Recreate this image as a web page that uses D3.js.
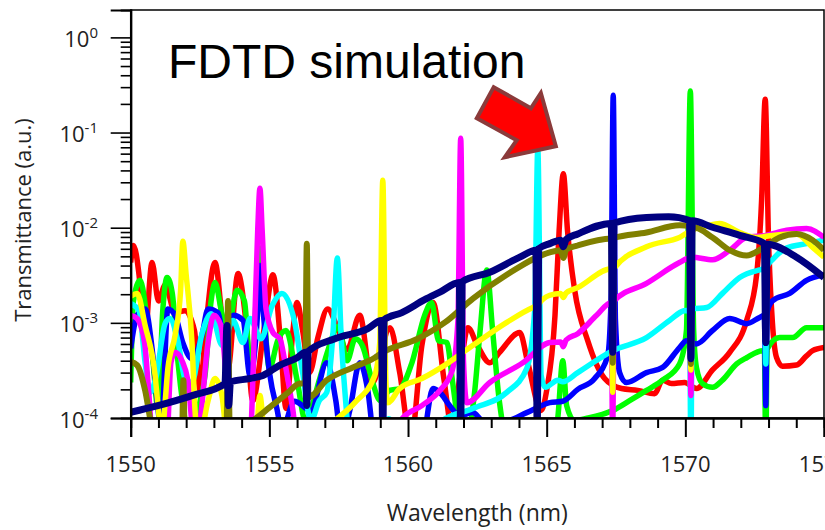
<!DOCTYPE html>
<html><head><meta charset="utf-8">
<script src="https://cdn.jsdelivr.net/npm/d3@7"></script>
<style>
html,body{margin:0;padding:0;background:#fff;}
svg{display:block;}
</style></head>
<body><svg id="chart" width="825" height="530"></svg>
<script>
// ---------- data (wavelength nm, transmittance a.u.) ----------
const xMajorTicks = [1550, 1555, 1560, 1565, 1570, 1575];
const xMinorTicks = [1551,1552,1553,1554,1556,1557,1558,1559,1561,1562,1563,1564,1566,1567,1568,1569,1571,1572,1573,1574];
const yMajorTicks = [1e-4, 1e-3, 1e-2, 1e-1, 1];
const yTickExponents = ["-4", "-3", "-2", "-1", "0"];

const red = [[1550.0,4.3e-3],[1550.1,6.5e-3],[1550.3,3.2e-3],[1550.5,6.5e-4],[1550.77,4.3e-3],[1551.0,1.7e-3],[1551.24,2.5e-3],[1551.6,1.28e-3],[1551.96,1.34e-3],[1552.3,8.3e-4],[1552.5,1.95e-4],[1552.7,8.3e-4],[1553.04,4.3e-3],[1553.3,1.06e-3],[1553.5,3.2e-4],[1553.87,3.3e-3],[1554.15,1.06e-3],[1554.4,1.52e-4],[1554.8,8.3e-4],[1555.13,3.2e-3],[1555.4,6.5e-4],[1555.6,1.26e-4],[1555.85,8.3e-4],[1556.0,1.64e-3],[1556.2,8.3e-4],[1556.45,3e-4],[1556.75,7e-4],[1557.1,1.4e-3],[1557.45,9e-4],[1557.8,5.2e-4],[1558.26,1.2e-3],[1558.7,2.3e-4],[1559.35,8.9e-4],[1559.7,3e-4],[1560.1,5.8e-5],[1560.5,5.8e-4],[1560.9,1.64e-3],[1561.3,2.5e-4],[1561.6,7.4e-5],[1561.85,2.5e-4],[1562.16,8.9e-4],[1562.5,5.8e-4],[1562.95,3.8e-4],[1563.3,4.9e-4],[1564.03,7.9e-4],[1564.32,3.8e-4],[1564.8,1.2e-4],[1565.0,1.95e-4],[1565.3,1.2e-3],[1565.45,9.4e-3],[1565.6,3.7e-2],[1565.75,9.4e-3],[1566.01,2.2e-3],[1566.48,6.5e-4],[1567.09,2.6e-4],[1567.7,2.04e-4],[1568.28,1.95e-4],[1568.89,1.8e-4],[1569.18,2.5e-4],[1569.5,2.3e-4],[1569.97,2.36e-4],[1570.4,2.04e-4],[1570.98,3.2e-4],[1571.6,4.9e-4],[1572.21,1.06e-3],[1572.57,3.2e-3],[1572.75,1.95e-2],[1572.88,0.224],[1573.0,7.4e-3],[1573.14,1.0e-3],[1573.29,4.3e-4],[1573.5,3.5e-4],[1574.01,3.6e-4],[1574.37,4.5e-4],[1574.59,5.1e-4],[1575.0,5.5e-4]];

const green = [[1550.0,2.36e-4],[1550.1,1.7e-3],[1550.34,2.8e-3],[1550.6,1.06e-3],[1550.8,4e-4],[1550.98,1.26e-4],[1551.16,1.4e-3],[1551.31,3e-3],[1551.5,2.04e-3],[1551.7,4e-4],[1551.9,1.26e-4],[1552.1,5.8e-5],[1552.5,1.5e-4],[1552.68,2.8e-4],[1552.9,1.7e-3],[1553.04,2.65e-3],[1553.3,1.2e-3],[1553.5,8.3e-4],[1553.83,2.2e-3],[1554.1,1.7e-3],[1554.35,2.5e-4],[1554.58,3.6e-3],[1554.66,6.1e-3],[1554.75,2.8e-3],[1555.0,3.3e-4],[1555.3,6.5e-4],[1555.6,8.3e-4],[1556.0,2.5e-4],[1556.3,9.4e-5],[1556.8,2.5e-4],[1557.07,4.7e-4],[1557.5,9.2e-4],[1557.8,4e-4],[1558.1,6.8e-4],[1558.35,5.8e-4],[1558.7,2.5e-4],[1559.0,1.52e-4],[1559.34,1.95e-4],[1559.7,2.04e-4],[1560.14,3.8e-4],[1560.6,1.2e-3],[1560.85,1.64e-3],[1561.1,6.5e-4],[1561.4,6.2e-4],[1561.61,2.36e-4],[1561.8,9.4e-5],[1562.1,5.8e-5],[1562.4,1.86e-4],[1562.6,8.3e-4],[1562.84,3.6e-3],[1563.05,8.3e-4],[1563.3,1.45e-4],[1563.6,5.8e-5],[1565.2,5.8e-5],[1565.4,1e-4],[1565.58,4e-4],[1565.72,1.35e-4],[1566.0,9.4e-5],[1566.5,1e-4],[1567.38,1.2e-4],[1567.99,1.52e-4],[1568.6,1.95e-4],[1569.18,2.5e-4],[1569.79,3.7e-4],[1570.04,8.3e-4],[1570.18,0.274],[1570.3,8.3e-4],[1570.4,3.4e-4],[1570.62,2.3e-4],[1570.98,2.1e-4],[1571.34,2.5e-4],[1571.85,3.7e-4],[1572.21,4.3e-4],[1572.79,5.1e-4],[1572.85,5.1e-4],[1572.9,4.6e-5],[1572.95,5.3e-4],[1573.4,7e-4],[1573.87,7e-4],[1574.37,8.9e-4],[1575.0,8.9e-4]];

const blue = [[1550.0,5.4e-4],[1550.23,1.2e-3],[1550.52,1.4e-3],[1550.77,5.4e-4],[1550.98,1.26e-4],[1551.1,7.4e-5],[1551.34,1.4e-3],[1551.6,1.2e-3],[1551.88,6.2e-4],[1552.21,4.2e-4],[1552.57,7.4e-4],[1552.79,1.4e-3],[1553.15,1.28e-3],[1553.4,6.2e-4],[1553.7,1.2e-3],[1554.05,1.06e-3],[1554.3,2.8e-4],[1554.6,1.7e-3],[1554.66,4e-3],[1554.75,1.7e-3],[1555.02,2.8e-4],[1555.27,1.26e-4],[1555.45,7.4e-5],[1555.9,1.5e-4],[1556.5,1.2e-4],[1557.07,3.8e-4],[1557.4,1.5e-4],[1557.6,5.8e-5],[1557.9,1.2e-4],[1558.26,3.8e-4],[1558.55,1.95e-4],[1558.8,5.8e-5],[1560.5,5.8e-5],[1560.9,2.04e-4],[1561.15,1.86e-4],[1561.5,1.35e-4],[1561.86,1.06e-4],[1562.34,1.14e-4],[1562.7,9.4e-5],[1563.56,9.4e-5],[1564.28,1.14e-4],[1565.11,1.45e-4],[1565.58,1.5e-4],[1566.12,2e-4],[1566.73,2.6e-4],[1567.2,4.5e-4],[1567.32,1.7e-3],[1567.4,0.247],[1567.48,1.06e-3],[1567.63,3e-4],[1567.88,2.36e-4],[1568.6,3e-4],[1569.18,3.4e-4],[1569.79,5.5e-4],[1570.04,6.5e-4],[1570.4,6e-4],[1570.98,8.3e-4],[1571.6,1.11e-3],[1572.21,9.8e-4],[1572.68,1.14e-3],[1572.85,1.2e-3],[1572.9,1.35e-4],[1572.95,1.3e-3],[1573.14,1.7e-3],[1573.76,2.04e-3],[1574.37,2.8e-3],[1575.0,3.2e-3]];

const cyan = [[1550.0,1.6e-3],[1550.3,1.34e-3],[1550.52,3.8e-4],[1550.7,1.86e-4],[1550.9,2.6e-4],[1551.24,9.8e-4],[1551.4,1.11e-3],[1551.7,6.5e-4],[1551.96,2.6e-4],[1552.2,2.36e-4],[1552.57,7.7e-4],[1552.9,1.25e-3],[1553.3,5.8e-4],[1553.69,1.06e-3],[1554.05,6.2e-4],[1554.3,1.11e-3],[1554.7,6.8e-4],[1555.1,1.52e-3],[1555.45,2.04e-3],[1555.9,1.06e-3],[1556.2,3e-4],[1556.5,9.4e-5],[1556.8,1.52e-4],[1557.07,1.86e-4],[1557.3,8.3e-4],[1557.45,4.8e-3],[1557.6,6.2e-4],[1557.75,1.52e-4],[1557.9,5.8e-5],[1559.0,5.8e-5],[1559.3,9.8e-5],[1559.6,8.3e-5],[1560.2,5.8e-5],[1560.8,5.8e-5],[1561.15,9e-5],[1562.34,1.26e-4],[1563.56,1.86e-4],[1564.28,3.3e-4],[1564.57,1.4e-3],[1564.68,6.8e-2],[1564.8,2.8e-4],[1564.95,2.1e-4],[1565.4,2.5e-4],[1565.58,2.4e-4],[1566.12,3e-4],[1567.38,5.1e-4],[1568.6,7e-4],[1569.43,1.06e-3],[1569.95,1.34e-3],[1570.15,1.36e-3],[1570.2,4.6e-5],[1570.25,1.4e-3],[1570.77,1.45e-3],[1571.34,2.04e-3],[1571.96,3e-3],[1572.68,3.6e-3],[1572.85,3.7e-3],[1572.9,3.7e-4],[1572.95,3.9e-3],[1573.14,4.6e-3],[1573.65,6.1e-3],[1574.37,6.8e-3],[1575.0,7.4e-3]];

const magenta = [[1550.0,1.2e-3],[1550.23,1.11e-3],[1550.5,6.2e-4],[1550.65,1.86e-4],[1550.8,5.8e-5],[1551.3,5.8e-5],[1551.45,3.8e-4],[1551.6,4.9e-4],[1551.85,4e-4],[1552.06,2.5e-4],[1552.3,5.8e-5],[1552.5,9.4e-5],[1552.79,6.2e-4],[1553.0,1.2e-3],[1553.25,9.4e-4],[1553.45,2.5e-4],[1553.6,5.8e-5],[1554.3,5.8e-5],[1554.45,6.5e-4],[1554.58,9.4e-3],[1554.66,2.6e-2],[1554.74,9.4e-3],[1554.88,1.4e-3],[1555.13,7.9e-4],[1555.38,6.8e-4],[1555.6,3.3e-4],[1555.85,1.2e-4],[1556.0,5.8e-5],[1559.4,5.8e-5],[1559.78,9.8e-5],[1560.5,1.35e-4],[1561.15,1.95e-4],[1561.6,3.2e-4],[1561.8,1.06e-3],[1561.9,8.7e-2],[1562.0,4e-4],[1562.12,1.45e-4],[1562.95,2.36e-4],[1564.14,3.8e-4],[1565.11,6.2e-4],[1565.5,6.3e-4],[1565.6,5.6e-4],[1565.7,6.6e-4],[1566.12,7.7e-4],[1566.8,1.2e-3],[1567.33,1.64e-3],[1567.38,4.6e-5],[1567.43,1.7e-3],[1568.6,2.6e-3],[1569.79,4.3e-3],[1570.15,4.8e-3],[1570.2,1.72e-4],[1570.25,4.9e-3],[1570.98,4.6e-3],[1571.6,5.8e-3],[1572.21,7.9e-3],[1572.9,8.3e-3],[1573.65,9.4e-3],[1574.37,9.8e-3],[1575.0,7.9e-3]];

const yellow = [[1550.0,1.9e-3],[1550.23,2.04e-3],[1550.52,9.4e-4],[1550.88,2.8e-4],[1551.0,1.2e-4],[1551.12,5.8e-5],[1551.24,1.45e-4],[1551.34,3.3e-4],[1551.6,7.4e-4],[1551.8,2.2e-3],[1551.88,7.2e-3],[1552.0,3.2e-3],[1552.21,6.2e-4],[1552.32,1.2e-4],[1552.45,5.8e-5],[1552.79,1.52e-4],[1553.04,2.6e-4],[1553.29,1.72e-4],[1553.5,5.8e-5],[1554.5,5.8e-5],[1554.66,1.72e-4],[1554.85,5.8e-5],[1556.5,4.6e-5],[1556.9,7.4e-5],[1557.36,9.4e-5],[1558.08,1.45e-4],[1558.8,2.8e-4],[1558.98,6.2e-4],[1559.09,3.15e-2],[1559.2,2.5e-4],[1559.27,1.45e-4],[1559.7,2.04e-4],[1560.5,2.6e-4],[1561.33,3.6e-4],[1562.34,5.8e-4],[1563.56,1.01e-3],[1564.5,1.45e-3],[1564.62,1.5e-3],[1564.66,5e-5],[1564.7,1.55e-3],[1565.11,1.95e-3],[1565.5,2.04e-3],[1565.6,1.85e-3],[1565.7,2.06e-3],[1566.12,2.35e-3],[1567.33,3.7e-3],[1567.38,1.86e-4],[1567.43,3.75e-3],[1568.6,6.3e-3],[1569.79,7.9e-3],[1570.15,8.9e-3],[1570.2,3.2e-4],[1570.25,9.4e-3],[1570.77,1.04e-2],[1571.23,1.11e-2],[1571.96,8.9e-3],[1572.57,7.9e-3],[1573.14,8.3e-3],[1574.01,8.6e-3],[1574.59,6.2e-3],[1575.0,4.9e-3]];

const olive = [[1550.0,3.9e-4],[1550.23,3.6e-4],[1550.52,1.95e-4],[1550.75,8.3e-5],[1551.0,4.6e-5],[1551.84,4.6e-5],[1551.9,2.5e-4],[1551.96,4.6e-5],[1553.45,4.6e-5],[1553.51,1.7e-3],[1553.57,7.4e-5],[1554.4,9.4e-5],[1555.02,1.3e-4],[1555.63,1.8e-4],[1556.1,2.3e-4],[1556.29,2.3e-4],[1556.35,6.8e-3],[1556.41,1.65e-4],[1557.07,2.5e-4],[1558.01,3.4e-4],[1558.8,4.3e-4],[1559.09,4.9e-4],[1560.35,6.8e-4],[1561.33,1.01e-3],[1562.34,1.8e-3],[1563.56,3.2e-3],[1565.11,5.5e-3],[1565.5,5.8e-3],[1565.6,4.8e-3],[1565.7,5.9e-3],[1566.12,6.5e-3],[1567.33,7.7e-3],[1567.38,3.8e-4],[1567.43,7.8e-3],[1568.6,8.9e-3],[1569.79,1.06e-2],[1570.15,1.04e-2],[1570.2,3.7e-4],[1570.25,1.02e-2],[1570.98,7.9e-3],[1571.6,5.8e-3],[1572.21,5.1e-3],[1572.79,6.1e-3],[1573.4,7.9e-3],[1574.01,8.6e-3],[1574.59,7.4e-3],[1575.0,5.8e-3]];

const navy = [[1550.0,1.15e-4],[1550.98,1.35e-4],[1552.21,1.72e-4],[1553.4,2.3e-4],[1553.47,9.4e-4],[1553.53,1.35e-4],[1553.6,2.4e-4],[1554.3,2.6e-4],[1554.77,2.8e-4],[1555.38,3.6e-4],[1556.0,4.3e-4],[1556.3,4.9e-4],[1556.35,1.35e-4],[1556.4,5e-4],[1557.36,6.8e-4],[1558.55,8.7e-4],[1559.04,1.06e-3],[1559.09,5.8e-5],[1559.14,1.08e-3],[1559.78,1.28e-3],[1560.6,1.75e-3],[1561.15,2.1e-3],[1561.85,2.65e-3],[1561.9,5.8e-5],[1561.95,2.7e-3],[1562.95,3.4e-3],[1564.03,4.9e-3],[1564.61,5.8e-3],[1564.66,5.8e-5],[1564.71,6e-3],[1565.11,6.8e-3],[1565.5,7.4e-3],[1565.6,6.3e-3],[1565.7,7.5e-3],[1566.12,8.6e-3],[1567.33,1.11e-2],[1567.38,4.9e-4],[1567.43,1.12e-2],[1568.6,1.28e-2],[1569.4,1.3e-2],[1570.15,1.19e-2],[1570.2,4.2e-4],[1570.25,1.18e-2],[1570.98,1.01e-2],[1571.96,8.3e-3],[1572.85,6.8e-3],[1572.9,6.2e-4],[1572.95,6.7e-3],[1574.01,4.9e-3],[1575.0,3.0e-3]];

// drawing order: bottom to top
const seriesData = [red, green, blue, cyan, magenta, yellow, olive, navy];
const seriesColors = ["#ff0000", "#00ff00", "#0000ff", "#00ffff", "#ff00ff", "#ffff00", "#808000", "#000080"];
const seriesWidths = [5.5, 5.5, 5.5, 5.5, 5.5, 5.5, 6, 7];

// arrow annotation outline (wavelength, transmittance)
const arrowOutline = [[1563.09,0.30],[1564.43,0.18],[1564.79,0.26],[1565.33,0.0718],[1563.49,0.055],[1563.92,0.083],[1562.48,0.1415]];

// ---------- layout ----------
const svg = d3.select("#chart");
const L = 130.7, R = 824, T = 10, B = 418;
const x = d3.scaleLinear().domain([1550, 1575]).range([L, R]);
const y = d3.scaleLog().domain([1e-4, 1.94]).range([B, T]);

svg.append("rect").attr("width", 825).attr("height", 530).attr("fill", "#fff");

svg.append("defs").append("clipPath").attr("id", "plotclip")
  .append("rect").attr("x", L).attr("y", T).attr("width", R - L).attr("height", B - T);

const line = d3.line().x(d => x(d[0])).y(d => y(d[1])).curve(d3.curveMonotoneX);

const g = svg.append("g").attr("clip-path", "url(#plotclip)");
seriesData.forEach((s, i) => {
  g.append("path").datum(s).attr("d", line)
    .attr("fill", "none").attr("stroke", seriesColors[i])
    .attr("stroke-width", seriesWidths[i])
    .attr("stroke-linejoin", "round").attr("stroke-linecap", "butt");
});

// frame
svg.append("rect").attr("x", L).attr("y", T).attr("width", R - L).attr("height", B - T)
  .attr("fill", "none").attr("stroke", "#000").attr("stroke-width", 1.5);

// x axis
const xAxisMajor = d3.axisBottom(x).tickValues(xMajorTicks).tickSize(19).tickFormat("");
const xAxisMinor = d3.axisBottom(x).tickValues(xMinorTicks).tickSize(10).tickFormat("");
[xAxisMajor, xAxisMinor].forEach(ax => {
  const a = svg.append("g").attr("transform", `translate(0,${B})`).call(ax);
  a.selectAll("line").attr("stroke", "#000").attr("stroke-width", 2);
  a.select(".domain").attr("stroke", "#000").attr("stroke-width", 2);
});
svg.append("g").selectAll("text").data(xMajorTicks).join("text")
  .attr("x", d => x(d)).attr("y", 472).attr("text-anchor", "middle")
  .attr("font-family", "'Open Sans', sans-serif").attr("font-size", 22).attr("fill", "#222")
  .text(d => d);

// y axis
const yMinor = y.ticks().filter(v => yMajorTicks.indexOf(v) < 0 && v <= 1.94);
const yAxisMajor = d3.axisLeft(y).tickValues(yMajorTicks).tickSize(20).tickFormat("");
const yAxisMinor = d3.axisLeft(y).tickValues(yMinor).tickSize(10).tickFormat("");
[yAxisMajor, yAxisMinor].forEach(ax => {
  const a = svg.append("g").attr("transform", `translate(${L},0)`).call(ax);
  a.selectAll("line").attr("stroke", "#000").attr("stroke-width", 1.6);
  a.select(".domain").attr("stroke", "#000").attr("stroke-width", 2);
});
const yl = svg.append("g").selectAll("text").data(yMajorTicks).join("text")
  .attr("x", 98).attr("y", d => y(d) + 9.5).attr("text-anchor", "end")
  .attr("font-family", "'Open Sans', sans-serif").attr("font-size", 22).attr("fill", "#222");
yl.append("tspan").text("10");
yl.append("tspan").attr("dy", -9).attr("font-size", 15).text((d, i) => yTickExponents[i]);

// axis titles
svg.append("text").attr("x", (L + R) / 2).attr("y", 521).attr("text-anchor", "middle")
  .attr("font-family", "'Open Sans', sans-serif").attr("font-size", 23).attr("fill", "#222")
  .text("Wavelength (nm)");
svg.append("text").attr("transform", "translate(31,220) rotate(-90)").attr("text-anchor", "middle")
  .attr("font-family", "'Open Sans', sans-serif").attr("font-size", 22).attr("fill", "#222")
  .text("Transmittance (a.u.)");

// title annotation
svg.append("text").attr("x", 168).attr("y", 78)
  .attr("font-family", "'Liberation Sans', Arial, sans-serif").attr("font-size", 48).attr("fill", "#000")
  .text("FDTD simulation");

// arrow annotation
svg.append("path")
  .attr("d", d3.line().x(d => x(d[0])).y(d => y(d[1])).curve(d3.curveLinearClosed)(arrowOutline))
  .attr("fill", "#ff0000").attr("stroke", "#8b3a3a").attr("stroke-width", 4).attr("stroke-linejoin", "miter");
</script>
</body></html>
